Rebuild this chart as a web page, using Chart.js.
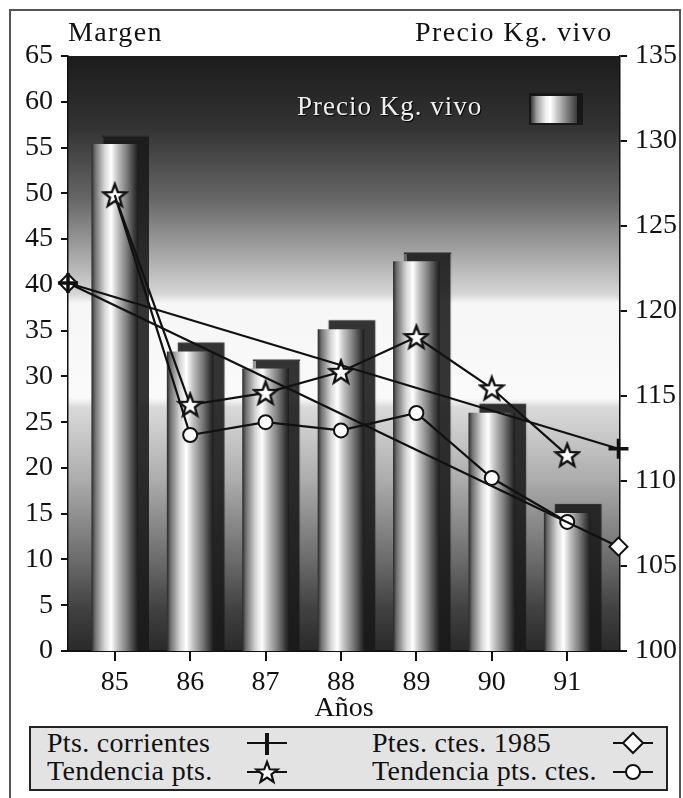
<!DOCTYPE html>
<html>
<head>
<meta charset="utf-8">
<script src="https://cdn.jsdelivr.net/npm/chart.js@4.4.1/dist/chart.umd.min.js"></script>
<style>
  body { margin: 0; background: #fff; }
  #wrap { position: relative; width: 683px; height: 798px; overflow: hidden;
          font-family: 'Liberation Serif', 'Times New Roman', serif; color: #111; }
  #frame { position: absolute; left: 9px; top: 9px; width: 668px; height: 800px;
           border-left: 2px solid #555; border-top: 2px solid #555; border-right: 2px solid #555; }
  canvas { position: absolute; left: 0; top: 0; }
  .lbl { position: absolute; font-size: 28px; line-height: 28px; white-space: nowrap; }
  .title { letter-spacing: 1.4px; top: 18px; }
  #inner { position: absolute; left: 297px; top: 91px; font-size: 27px; line-height: 30px;
           letter-spacing: 1px; color: #efefef; text-shadow: 1px 1px 1px #000; white-space: nowrap; }
  #innerShadow { position: absolute; left: 529px; top: 93px; width: 54px; height: 32px; background: rgba(20,20,20,0.85); }
  #innerIcon { position: absolute; left: 531px; top: 96px; width: 46px; height: 27px;
               background: linear-gradient(to right, #3a3a3a 0%, #9a9a9a 12%, #f0f0f0 32%, #ffffff 42%, #c4c4c4 58%, #808080 78%, #3a3a3a 100%); }
  #legend { position: absolute; left: 29px; top: 726px; width: 635px; height: 61px;
            border: 2px solid #222; background: #e3e3e3; }
  .leg { letter-spacing: 0.3px; }
  .mk { position: absolute; }
</style>
</head>
<body>
<div id="wrap">
  <div id="frame"></div>
  <canvas id="chart" width="683" height="798"></canvas>
  <div class="lbl title" style="left:68px;">Margen</div>
  <div class="lbl title" style="left:415px;">Precio Kg. vivo</div>
  <div id="innerShadow"></div>
  <div id="innerIcon"></div>
  <div id="inner">Precio Kg. vivo</div>
  <div id="legend"></div>
  <div class="lbl leg" style="left:47px; top:729px;">Pts. corrientes</div>
  <div class="lbl leg" style="left:47px; top:757px;">Tendencia pts.</div>
  <div class="lbl leg" style="left:372px; top:729px;">Ptes. ctes. 1985</div>
  <div class="lbl leg" style="left:372px; top:757px;">Tendencia pts. ctes.</div>
  <svg class="mk" style="left:245px; top:730px;" width="44" height="26" viewBox="-22 -13 44 26">
    <line x1="-20" y1="0" x2="20" y2="0" stroke="#111" stroke-width="2.2"/>
    <line x1="0" y1="-10" x2="0" y2="12" stroke="#111" stroke-width="4"/>
  </svg>
  <svg class="mk" style="left:245px; top:759px;" width="44" height="26" viewBox="-22 -13 44 26">
    <line x1="-20" y1="0" x2="20" y2="0" stroke="#111" stroke-width="2.2"/>
    <polygon id="legStar" fill="#fff" stroke="#111" stroke-width="2.2"/>
  </svg>
  <svg class="mk" style="left:611px; top:730px;" width="44" height="26" viewBox="-22 -13 44 26">
    <line x1="-20" y1="0" x2="20" y2="0" stroke="#111" stroke-width="2.2"/>
    <polygon points="0,-10 10,0 0,10 -10,0" fill="#fff" stroke="#111" stroke-width="2"/>
  </svg>
  <svg class="mk" style="left:611px; top:759px;" width="44" height="26" viewBox="-22 -13 44 26">
    <line x1="-20" y1="0" x2="20" y2="0" stroke="#111" stroke-width="2.2"/>
    <circle cx="0" cy="0" r="7" fill="#fff" stroke="#111" stroke-width="2"/>
  </svg>
</div>
<script>
// ---------------- datos ----------------
const years = [85, 86, 87, 88, 89, 90, 91];
const precioKgVivo = [129.8, 117.6, 116.6, 118.9, 122.9, 114.0, 108.1];   // eje derecho (barras)
const tendenciaPts = [49.8, 26.9, 28.2, 30.5, 34.3, 28.7, 21.4];          // estrellas
const tendenciaPtsCtes = [49.8, 23.6, 25.0, 24.1, 26.0, 18.9, 14.1];      // círculos
const trendX = [84.38, 91.68];                                            // extremos de las rectas
const ptsCorrientes = [40.2, 22.1];                                       // cruz
const ptesCtes1985 = [40.2, 11.4];                                        // rombo
const margenTicks = [0, 5, 10, 15, 20, 25, 30, 35, 40, 45, 50, 55, 60, 65];
const precioTicks = [100, 105, 110, 115, 120, 125, 130, 135];

const FONT = "'Liberation Serif', 'Times New Roman', serif";
Chart.defaults.font.family = FONT;
Chart.defaults.color = '#111';

// estrella de 5 puntas para los marcadores
function starPoints(R, r) {
  const pts = [];
  for (let i = 0; i < 10; i++) {
    const a = -Math.PI / 2 + i * Math.PI / 5;
    const rad = i % 2 === 0 ? R : r;
    pts.push([rad * Math.cos(a), rad * Math.sin(a)]);
  }
  return pts;
}
const starImg = document.createElement('canvas');
starImg.width = 28; starImg.height = 28;
(function () {
  const c = starImg.getContext('2d');
  c.translate(14, 15);
  c.beginPath();
  starPoints(12, 5).forEach((p, i) => i ? c.lineTo(p[0], p[1]) : c.moveTo(p[0], p[1]));
  c.closePath();
  c.fillStyle = '#fff'; c.fill();
  c.lineWidth = 2.4; c.strokeStyle = '#111'; c.stroke();
})();
document.getElementById('legStar').setAttribute('points',
  starPoints(11, 4.6).map(p => p[0].toFixed(1) + ',' + (p[1] + 1).toFixed(1)).join(' '));

// fondo degradado del área del gráfico
const plotBackground = {
  id: 'plotBackground',
  beforeDraw(chart) {
    const { ctx, chartArea: a } = chart;
    const g = ctx.createLinearGradient(0, a.top, 0, a.bottom);
    g.addColorStop(0.00, '#1c1c1c');
    g.addColorStop(0.12, '#333333');
    g.addColorStop(0.24, '#666666');
    g.addColorStop(0.33, '#a4a4a4');
    g.addColorStop(0.40, '#d6d6d6');
    g.addColorStop(0.415, '#f6f6f6');
    g.addColorStop(0.575, '#fafafa');
    g.addColorStop(0.59, '#dadada');
    g.addColorStop(0.71, '#adadad');
    g.addColorStop(0.85, '#6a6a6a');
    g.addColorStop(0.93, '#414141');
    g.addColorStop(1.00, '#2a2a2a');
    ctx.save();
    ctx.fillStyle = g;
    ctx.fillRect(a.left, a.top, a.right - a.left, a.bottom - a.top);
    ctx.restore();
  }
};

// sombra desplazada de las barras
const barShadow = {
  id: 'barShadow',
  beforeDatasetDraw(chart, args) {
    if (args.meta.type !== 'bar') return;
    const c = chart.ctx;
    c.save();
    c.shadowColor = 'rgba(24,24,24,0.88)';
    c.shadowOffsetX = 11;
    c.shadowOffsetY = -9;
    c.shadowBlur = 1;
  },
  afterDatasetDraw(chart, args) {
    if (args.meta.type !== 'bar') return;
    chart.ctx.restore();
  }
};

function cylinder(context) {
  const chart = context.chart;
  if (context.type !== 'data' || !chart.scales.x) return '#aaa';
  const cx = chart.scales.x.getPixelForValue(years[context.dataIndex]);
  if (!isFinite(cx)) return '#aaa';
  const g = chart.ctx.createLinearGradient(cx - 23, 0, cx + 23, 0);
  g.addColorStop(0.00, '#2e2e2e');
  g.addColorStop(0.07, '#6e6e6e');
  g.addColorStop(0.28, '#d6d6d6');
  g.addColorStop(0.42, '#ffffff');
  g.addColorStop(0.56, '#c2c2c2');
  g.addColorStop(0.76, '#7c7c7c');
  g.addColorStop(0.92, '#3c3c3c');
  g.addColorStop(1.00, '#1e1e1e');
  return g;
}

const lineBase = {
  type: 'line', yAxisID: 'yL', xAxisID: 'x', borderColor: '#111', borderWidth: 2.2,
  pointBorderColor: '#111', pointBackgroundColor: '#fff', clip: false, order: 0
};

new Chart(document.getElementById('chart'), {
  data: {
    datasets: [
      Object.assign({}, lineBase, {
        label: 'Pts. corrientes',
        data: trendX.map((x, i) => ({ x: x, y: ptsCorrientes[i] })),
        pointStyle: 'cross', pointRadius: 10, pointBorderWidth: 3.5
      }),
      Object.assign({}, lineBase, {
        label: 'Ptes. ctes. 1985',
        data: trendX.map((x, i) => ({ x: x, y: ptesCtes1985[i] })),
        pointStyle: 'rectRot', pointRadius: 9, pointBorderWidth: 2
      }),
      Object.assign({}, lineBase, {
        label: 'Tendencia pts. ctes.',
        data: years.map((x, i) => ({ x: x, y: tendenciaPtsCtes[i] })),
        pointStyle: 'circle', pointRadius: [0, 7, 7, 7, 7, 7, 7], pointBorderWidth: 2
      }),
      Object.assign({}, lineBase, {
        label: 'Tendencia pts.',
        data: years.map((x, i) => ({ x: x, y: tendenciaPts[i] })),
        pointStyle: starImg, pointRadius: 12
      }),
      {
        type: 'bar', label: 'Precio Kg. vivo', yAxisID: 'yR', xAxisID: 'x', order: 10,
        data: years.map((x, i) => ({ x: x, y: precioKgVivo[i] })),
        backgroundColor: cylinder, borderWidth: 0, barThickness: 46
      }
    ]
  },
  options: {
    responsive: false,
    animation: false,
    events: [],
    layout: { padding: { left: 0, right: 0, top: 56, bottom: 73 } },
    plugins: { legend: { display: false }, tooltip: { enabled: false } },
    scales: {
      x: {
        type: 'linear', position: 'bottom', min: 84.38, max: 91.70, offset: false,
        afterBuildTicks: s => { s.ticks = years.map(v => ({ value: v })); },
        afterFit: s => { s.height = 74; },
        ticks: { font: { size: 28 }, padding: 5, color: '#111' },
        grid: { offset: false, drawOnChartArea: false, drawTicks: true, tickLength: 10, tickColor: '#111', lineWidth: 2 },
        border: { display: true, color: '#111', width: 2 },
        title: { display: true, text: 'Años', font: { size: 28 }, color: '#111', padding: 0 }
      },
      yL: {
        type: 'linear', position: 'left', min: 0, max: 65,
        afterBuildTicks: s => { s.ticks = margenTicks.map(v => ({ value: v })); },
        afterFit: s => { s.width = 68; },
        ticks: { font: { size: 28 }, padding: 8, color: '#111' },
        grid: { drawOnChartArea: false, drawTicks: true, tickLength: 7, tickColor: '#111', lineWidth: 2 },
        border: { display: true, color: '#111', width: 1.5 }
      },
      yR: {
        type: 'linear', position: 'right', min: 100, max: 135,
        afterBuildTicks: s => { s.ticks = precioTicks.map(v => ({ value: v })); },
        afterFit: s => { s.width = 63; },
        ticks: { font: { size: 28 }, padding: 8, color: '#111' },
        grid: { drawOnChartArea: false, drawTicks: true, tickLength: 7, tickColor: '#111', lineWidth: 2 },
        border: { display: true, color: '#111', width: 1.5 }
      }
    }
  },
  plugins: [plotBackground, barShadow]
});
</script>
</body>
</html>
